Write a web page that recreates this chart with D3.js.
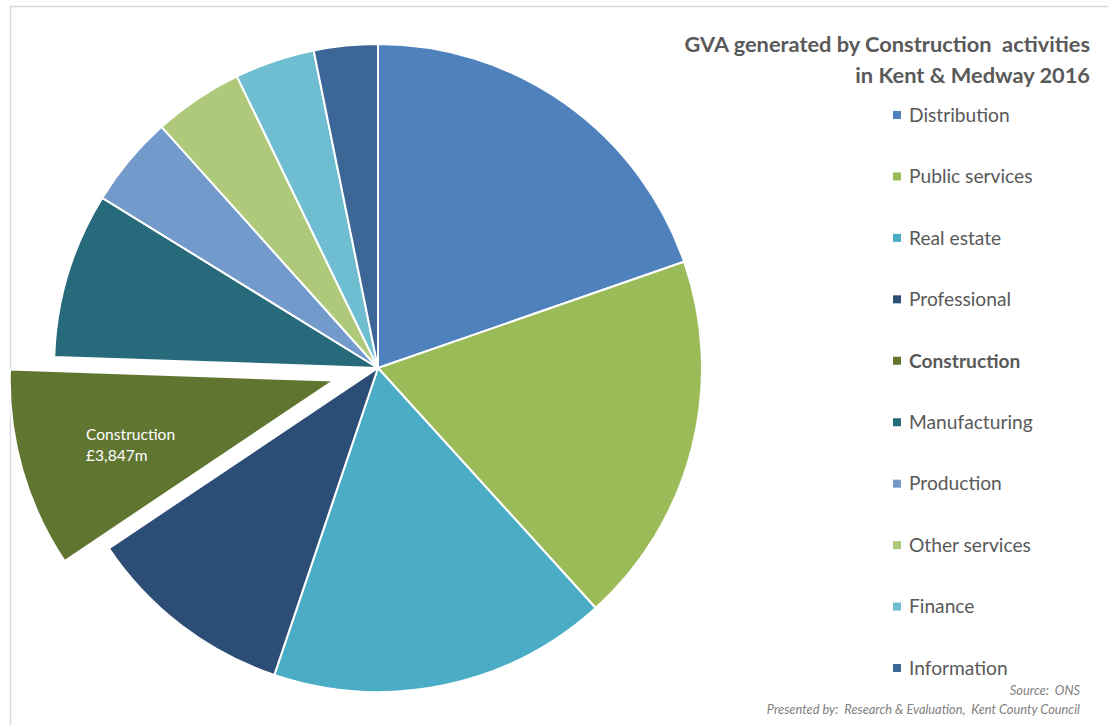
<!DOCTYPE html>
<html lang="en">
<head>
    <meta charset="UTF-8">
    <title>GVA Construction Kent & Medway 2016</title>
    <script src="https://d3js.org/d3.v7.min.js" charset="utf-8"></script>
    <style>
        body { margin: 0; background: #fff; }
        svg { display: block; }
    </style>
</head>
<body>
    <div id="vis"></div>

    <script>

        // values in £m (only Construction is labelled)
        var sectors = ["Distribution", "Public services", "Real estate", "Professional", "Construction",
                       "Manufacturing", "Production", "Other services", "Finance", "Information"];
        var gva = [7617, 7195, 6544, 4032, 3847, 3193, 1765, 1730, 1544, 1231];
        var colours = ["#4f81bd", "#9bbb59", "#4bacc6", "#2c4d75", "#5f7530",
                       "#276a7c", "#729aca", "#afc97a", "#6fbdd1", "#3b6696"];
        var highlight = "Construction";

        var width = 1108;
        var height = 725;

        var cx = 378, cy = 368, radius = 324;
        var explode = 46;

        var svg = d3.select("#vis")
            .append("svg")
              .attr('width', width)
              .attr('height', height);

        // chart frame (only top + left visible in the picture)
        svg.append('path')
            .attr('d', 'M10.5,' + height + ' V6.5 H' + width)
            .attr('fill', 'none')
            .attr('stroke', '#d9d9d9')
            .attr('stroke-width', 1.5);

        var data = sectors.map(function(s, i) {
            return { name: s, value: gva[i], colour: colours[i] };
        });

        var pie = d3.pie()
            .sort(null)
            .value(function(d) { return d.value; });

        var arc = d3.arc()
            .innerRadius(0)
            .outerRadius(radius);

        var arcs = pie(data);

        var g = svg.append('g')
            .attr('transform', 'translate(' + cx + ',' + cy + ')');

        function offset(d) {
            if (d.data.name != highlight) return [0, 0];
            var mid = (d.startAngle + d.endAngle) / 2;
            return [Math.sin(mid) * explode, -Math.cos(mid) * explode];
        }

        var slices = g.selectAll('.slice')
            .data(arcs)
            .enter()
            .append('g')
              .attr('class', 'slice')
              .attr('transform', function(d) {
                  var o = offset(d);
                  return 'translate(' + o[0] + ',' + o[1] + ')';
              });

        slices.append('path')
            .attr('d', arc)
            .attr('fill', function(d) { return d.data.colour; })
            .attr('stroke', '#fff')
            .attr('stroke-width', 2)
            .attr('stroke-linejoin', 'round');

        // data label on the exploded slice
        var hl = arcs.filter(function(d) { return d.data.name == highlight; })[0];
        var lbl = slices.filter(function(d) { return d.data.name == highlight; })
            .append('text')
              .attr('x', 86 - cx - offset(hl)[0])
              .attr('y', 440 - cy - offset(hl)[1])
              .attr('fill', '#fff')
              .style('font-family', 'Lato, "Open Sans", sans-serif')
              .style('font-size', '15.6px');
        lbl.append('tspan').text(hl.data.name);
        lbl.append('tspan')
            .attr('x', 86 - cx - offset(hl)[0])
            .attr('dy', 21)
            .text('£' + d3.format(',')(hl.data.value) + 'm');

        // title
        var title = svg.append('text')
            .attr('text-anchor', 'end')
            .attr('fill', '#595959')
            .style('font-family', 'Lato, "Open Sans", sans-serif')
            .style('font-weight', 'bold')
            .style('font-size', '21.8px');
        title.append('tspan').attr('x', 1090).attr('y', 52).text('GVA generated by Construction\u00a0 activities');
        title.append('tspan').attr('x', 1090).attr('y', 83).text('in Kent & Medway 2016');

        // legend
        var legendY = d3.scalePoint()
            .domain(sectors)
            .range([115, 668]);

        var legend = svg.selectAll('.legend')
            .data(data)
            .enter()
            .append('g')
              .attr('class', 'legend')
              .attr('transform', function(d) { return 'translate(893,' + legendY(d.name) + ')'; });

        legend.append('rect')
            .attr('x', 0)
            .attr('y', -4)
            .attr('width', 8)
            .attr('height', 8)
            .attr('fill', function(d) { return d.colour; });

        legend.append('text')
            .attr('x', 16)
            .attr('y', 0)
            .attr('dy', '0.35em')
            .attr('fill', '#595959')
            .style('font-family', 'Lato, "Open Sans", sans-serif')
            .style('font-size', '19.2px')
            .style('font-weight', function(d) { return d.name == highlight ? 'bold' : 'normal'; })
            .text(function(d) { return d.name; });

        // footnotes
        var foot = svg.append('text')
            .attr('text-anchor', 'end')
            .attr('fill', '#7f7f7f')
            .style('font-family', 'Lato, "Open Sans", sans-serif')
            .style('font-style', 'italic')
            .style('font-size', '12.8px');
        foot.append('tspan').attr('x', 1080).attr('y', 695).text('Source:\u00a0 ONS');
        foot.append('tspan').attr('x', 1080).attr('y', 714).text('Presented by:\u00a0 Research & Evaluation,\u00a0 Kent County Council');

    </script>
</body>
</html>
